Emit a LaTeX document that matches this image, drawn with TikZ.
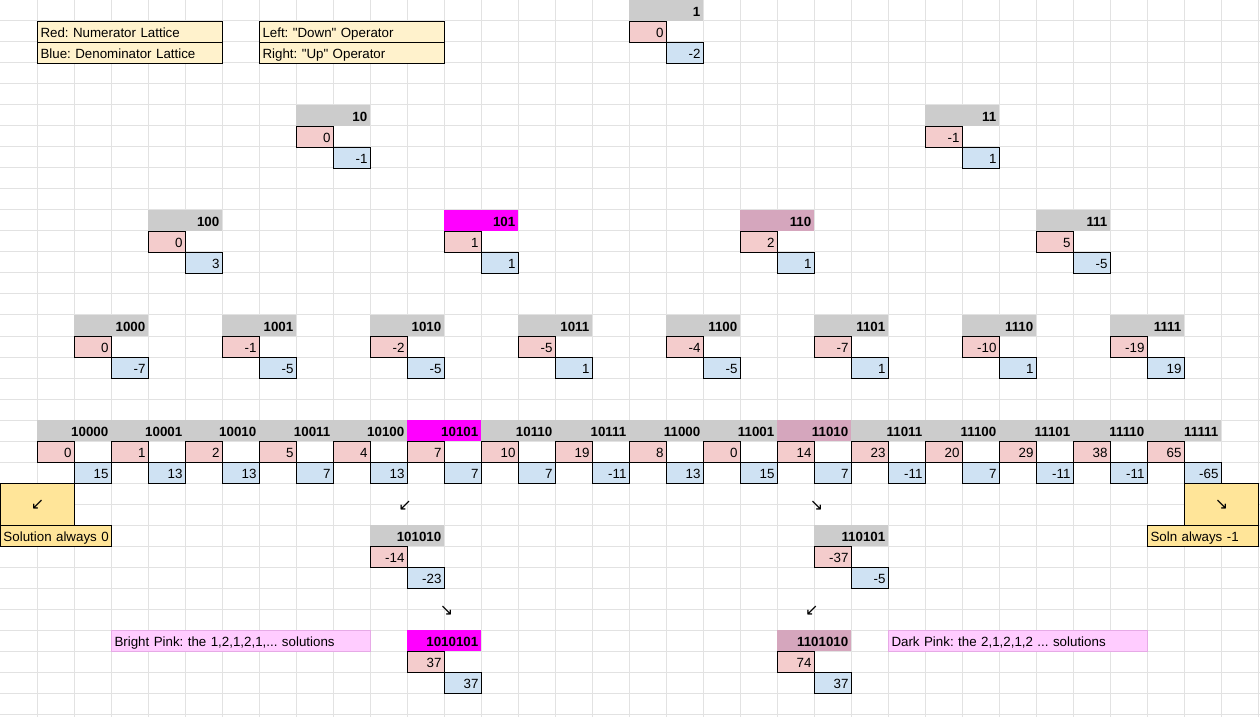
\documentclass[tikz,border=0pt]{standalone}
\usepackage{fontspec}
\setmainfont{Liberation Sans}[Ligatures=TeXOff]
\newfontfamily\arrowfont{DejaVu Sans}
\frenchspacing
\definecolor{gridc}{HTML}{E2E2E2}
\definecolor{hdrgray}{HTML}{CCCCCC}
\definecolor{redc}{HTML}{F4CCCC}
\definecolor{bluec}{HTML}{CFE2F3}
\definecolor{brightpink}{HTML}{FF00FF}
\definecolor{duskpink}{HTML}{D5A6BD}
\definecolor{legendy}{HTML}{FFF2CC}
\definecolor{solny}{HTML}{FFE599}
\definecolor{notepink}{HTML}{FFCCFF}
\definecolor{noteline}{HTML}{E6AAE6}
\newcommand\latnode[7]{%
  \node[hdr,#7] (#1) at (#2,#3) {#4};
  \node[numr] (#1r) at (#2,#3+1) {#5};
  \node[numb] (#1b) at (#2+1,#3+2) {#6};
}
\begin{document}
\begin{tikzpicture}[x=27.75pt,y=-15.75pt,
  cellbase/.style={anchor=north west, inner xsep=2.25pt, inner ysep=0pt,
    minimum height=15.75pt, text height=9pt, text depth=0.75pt,
    font=\fontsize{10}{12}\selectfont},
  one/.style={text width=23.25pt},
  two/.style={text width=51pt},
  three/.style={text width=78.75pt},
  five/.style={text width=134.25pt},
  seven/.style={text width=189.75pt},
  hdr/.style={cellbase, two, align=right, fill=hdrgray,
    font=\fontsize{10}{12}\selectfont\bfseries},
  numr/.style={cellbase, one, align=right, fill=redc, draw=black, line width=0.75pt},
  numb/.style={cellbase, one, align=right, fill=bluec, draw=black, line width=0.75pt},
  brightpk/.style={fill=brightpink},
  duskpk/.style={fill=duskpink},
  plain/.style={},
  legendbox/.style={cellbase, five, align=left, fill=legendy, draw=black, line width=0.75pt},
  solnbox/.style={cellbase, three, align=left, fill=solny, draw=black, line width=0.75pt},
  arrowbox/.style={anchor=north west, inner sep=0pt, minimum width=55.5pt,
    minimum height=31.5pt, fill=solny, draw=black, line width=0.75pt,
    font=\arrowfont\fontsize{12}{12}\selectfont},
  notebox/.style={cellbase, seven, align=left, fill=notepink, draw=noteline, line width=0.75pt},
  arr/.style={inner sep=0pt, font=\arrowfont\fontsize{12}{12}\selectfont}
]
\useasboundingbox (0,0) rectangle (34.054,34.143);
\fill[white] (0,0) rectangle (34.054,34.143);
% grid
\foreach \i in {1,...,34} \draw[gridc, line width=0.75pt] (\i,0) -- (\i,34.143);
\foreach \j in {1,...,34} \draw[gridc, line width=0.75pt] (0,\j) -- (34.054,\j);
% legend
\node[legendbox] (lg1) at (1,1) {Red: Numerator Lattice};
\node[legendbox] (lg2) at (1,2) {Blue: Denominator Lattice};
\node[legendbox] (lg3) at (7,1) {Left: "Down" Operator};
\node[legendbox] (lg4) at (7,2) {Right: "Up" Operator};
% level 0
\latnode{n1}{17}{0}{1}{0}{-2}{plain}
% level 1
\latnode{n10}{8}{5}{10}{0}{-1}{plain}
\latnode{n11}{25}{5}{11}{-1}{1}{plain}
% level 2
\latnode{n100}{4}{10}{100}{0}{3}{plain}
\latnode{n101}{12}{10}{101}{1}{1}{brightpk}
\latnode{n110}{20}{10}{110}{2}{1}{duskpk}
\latnode{n111}{28}{10}{111}{5}{-5}{plain}
% level 3
\latnode{n1000}{2}{15}{1000}{0}{-7}{plain}
\latnode{n1001}{6}{15}{1001}{-1}{-5}{plain}
\latnode{n1010}{10}{15}{1010}{-2}{-5}{plain}
\latnode{n1011}{14}{15}{1011}{-5}{1}{plain}
\latnode{n1100}{18}{15}{1100}{-4}{-5}{plain}
\latnode{n1101}{22}{15}{1101}{-7}{1}{plain}
\latnode{n1110}{26}{15}{1110}{-10}{1}{plain}
\latnode{n1111}{30}{15}{1111}{-19}{19}{plain}
% level 4
\latnode{n10000}{1}{20}{10000}{0}{15}{plain}
\latnode{n10001}{3}{20}{10001}{1}{13}{plain}
\latnode{n10010}{5}{20}{10010}{2}{13}{plain}
\latnode{n10011}{7}{20}{10011}{5}{7}{plain}
\latnode{n10100}{9}{20}{10100}{4}{13}{plain}
\latnode{n10101}{11}{20}{10101}{7}{7}{brightpk}
\latnode{n10110}{13}{20}{10110}{10}{7}{plain}
\latnode{n10111}{15}{20}{10111}{19}{-11}{plain}
\latnode{n11000}{17}{20}{11000}{8}{13}{plain}
\latnode{n11001}{19}{20}{11001}{0}{15}{plain}
\latnode{n11010}{21}{20}{11010}{14}{7}{duskpk}
\latnode{n11011}{23}{20}{11011}{23}{-11}{plain}
\latnode{n11100}{25}{20}{11100}{20}{7}{plain}
\latnode{n11101}{27}{20}{11101}{29}{-11}{plain}
\latnode{n11110}{29}{20}{11110}{38}{-11}{plain}
\latnode{n11111}{31}{20}{11111}{65}{-65}{plain}
% solution boxes
\node[arrowbox] (sa) at (0,23) {\raisebox{-2.25pt}{↙}};
\node[solnbox] (sb) at (0,25) {\mbox{Solution always 0}};
\node[arrowbox] (sc) at (32,23) {\raisebox{-2.25pt}{↘}};
\node[solnbox] (sd) at (31,25) {\mbox{Soln always -1}};
% free arrows
\node[arr] (a1) at (10.95,24.1) {↙};
\node[arr] (a2) at (22.07,24.1) {↘};
\node[arr] (a3) at (12.07,29.1) {↘};
\node[arr] (a4) at (21.94,29.1) {↙};
% deeper nodes
\latnode{n101010}{10}{25}{101010}{-14}{-23}{plain}
\latnode{n110101}{22}{25}{110101}{-37}{-5}{plain}
\latnode{n1010101}{11}{30}{1010101}{37}{37}{brightpk}
\latnode{n1101010}{21}{30}{1101010}{74}{37}{duskpk}
% notes
\node[notebox] (nb1) at (3,30) {Bright Pink: the 1,2,1,2,1,... solutions};
\node[notebox] (nb2) at (24,30) {Dark Pink: the 2,1,2,1,2 ... solutions};
\end{tikzpicture}
\end{document}
